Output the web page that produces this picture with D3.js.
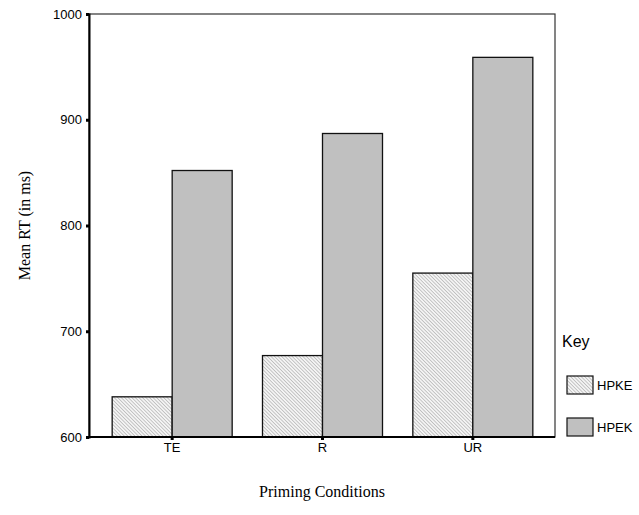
<!DOCTYPE html>
<html>
<head>
<meta charset="utf-8">
<script src="https://cdn.jsdelivr.net/npm/d3@7"></script>
<style>
  body { margin: 0; background: #fff; }
</style>
</head>
<body>
<svg id="chart" width="639" height="515"></svg>
<script>
// Chart values
var conditions = ['TE', 'R', 'UR'];
var seriesNames = ['HPKE', 'HPEK'];
var hpke = [638, 677, 755];
var hpek = [852, 887, 959];
var yTicks = [600, 700, 800, 900, 1000];

var svg = d3.select('#chart');

// Plot frame
var frame = { left: 89, top: 14, right: 555, bottom: 437 };

var x = d3.scaleBand()
    .domain(conditions)
    .range([97, 548]);

var sub = d3.scaleBand()
    .domain(seriesNames)
    .range([0, 120]);

var y = d3.scaleLinear()
    .domain([600, 1000])
    .range([frame.bottom, frame.top]);

// Hatch pattern (fine diagonal, top-left to bottom-right)
var defs = svg.append('defs');
var pat = defs.append('pattern')
    .attr('id', 'hatch')
    .attr('patternUnits', 'userSpaceOnUse')
    .attr('width', 2.5)
    .attr('height', 2.5)
    .attr('patternTransform', 'rotate(45)');
pat.append('rect').attr('width', 2.5).attr('height', 2.5).attr('fill', '#f4f4f4');
pat.append('line')
    .attr('x1', 0).attr('y1', 0).attr('x2', 2.5).attr('y2', 0)
    .attr('stroke', '#999').attr('stroke-width', 1);

var fills = { HPKE: 'url(#hatch)', HPEK: '#c0c0c0' };

// Frame (top / right)
svg.append('rect')
    .attr('x', frame.left)
    .attr('y', frame.top)
    .attr('width', frame.right - frame.left)
    .attr('height', frame.bottom - frame.top)
    .attr('fill', 'none')
    .attr('stroke', '#333')
    .attr('stroke-width', 1.2);

// Bars
var rows = [];
conditions.forEach(function (c, i) {
  rows.push({ cond: c, series: 'HPKE', value: hpke[i] });
  rows.push({ cond: c, series: 'HPEK', value: hpek[i] });
});

svg.append('g')
  .selectAll('rect')
  .data(rows)
  .enter().append('rect')
    .attr('x', function (d) { return x(d.cond) + x.bandwidth() / 2 - 60 + sub(d.series); })
    .attr('y', function (d) { return y(d.value); })
    .attr('width', sub.bandwidth())
    .attr('height', function (d) { return y(600) - y(d.value); })
    .attr('fill', function (d) { return fills[d.series]; })
    .attr('stroke', '#111')
    .attr('stroke-width', 1.3);

// Y axis
var yAxis = d3.axisLeft(y)
    .tickValues(yTicks)
    .tickFormat(d3.format('d'))
    .tickSize(3)
    .tickPadding(4);

var gy = svg.append('g')
    .attr('transform', 'translate(' + frame.left + ',0)')
    .call(yAxis);
gy.select('.domain').attr('stroke', '#000').attr('stroke-width', 2);
gy.selectAll('.tick line').attr('stroke', '#000').attr('stroke-width', 3);
gy.selectAll('.tick text')
    .style('font-family', 'Liberation Sans, Arial')
    .style('font-size', '13px')
    .attr('fill', '#000');

// X axis
var xAxis = d3.axisBottom(x)
    .tickSize(3)
    .tickSizeOuter(0)
    .tickPadding(3);

var gx = svg.append('g')
    .attr('transform', 'translate(0,' + frame.bottom + ')')
    .call(xAxis);
gx.select('.domain')
    .attr('d', 'M' + frame.left + ',0H' + frame.right)
    .attr('stroke', '#000').attr('stroke-width', 2);
gx.selectAll('.tick line').attr('stroke', '#000').attr('stroke-width', 3);
gx.selectAll('.tick text')
    .style('font-family', 'Liberation Sans, Arial')
    .style('font-size', '13px')
    .attr('fill', '#000');

// Axis titles
svg.append('text')
    .attr('transform', 'translate(30,' + ((frame.top + frame.bottom) / 2) + ') rotate(-90)')
    .attr('text-anchor', 'middle')
    .style('font-family', 'Liberation Serif, Times New Roman')
    .style('font-size', '16px')
    .text('Mean RT (in ms)');

svg.append('text')
    .attr('x', 322)
    .attr('y', 497)
    .attr('text-anchor', 'middle')
    .style('font-family', 'Liberation Serif, Times New Roman')
    .style('font-size', '16px')
    .text('Priming Conditions');

// Legend
var legend = svg.append('g');
legend.append('text')
    .attr('x', 562)
    .attr('y', 347)
    .style('font-family', 'Liberation Sans, Arial')
    .style('font-size', '16px')
    .text('Key');

var item = legend.selectAll('g.item')
    .data(seriesNames)
  .enter().append('g')
    .attr('class', 'item')
    .attr('transform', function (d, i) { return 'translate(567,' + (376 + i * 42) + ')'; });

item.append('rect')
    .attr('width', 26)
    .attr('height', 18)
    .attr('fill', function (d) { return fills[d]; })
    .attr('stroke', '#111')
    .attr('stroke-width', 1.2);

item.append('text')
    .attr('x', 30)
    .attr('y', 14)
    .style('font-family', 'Liberation Sans, Arial')
    .style('font-size', '13px')
    .text(function (d) { return d; });
</script>
</body>
</html>
